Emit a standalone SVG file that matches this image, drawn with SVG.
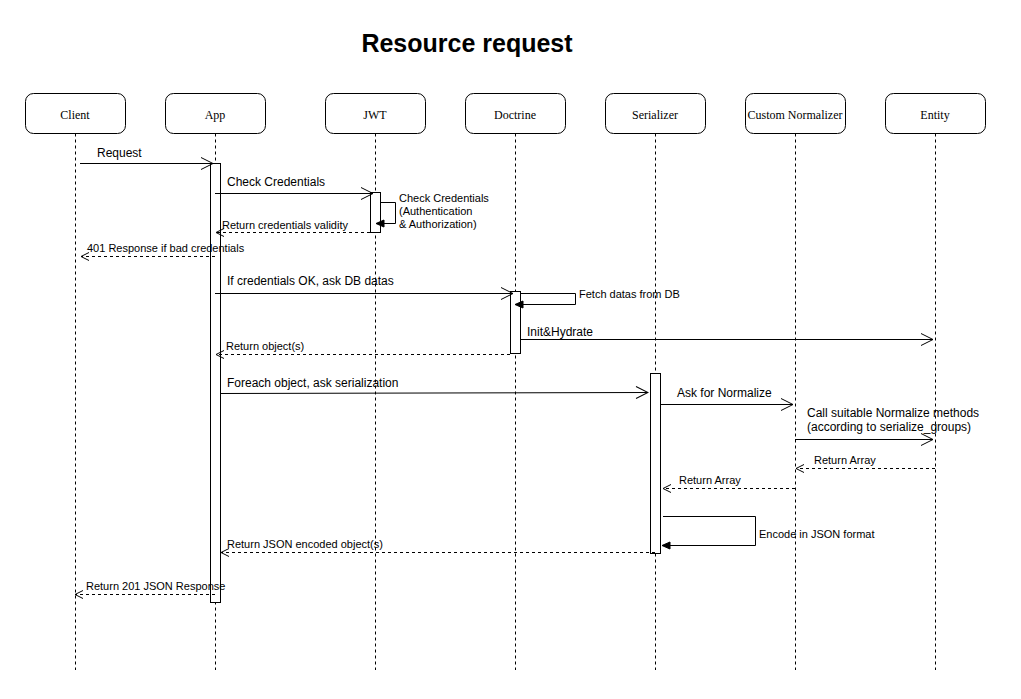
<svg xmlns="http://www.w3.org/2000/svg" width="1021" height="699" viewBox="0 0 1021 699">
<defs>
<marker id="open" markerWidth="14" markerHeight="14" refX="13" refY="7" orient="auto" markerUnits="userSpaceOnUse">
<path d="M1,1 L13,7 L1,13" fill="none" stroke="#000" stroke-width="1"/>
</marker>
<marker id="openS" markerWidth="10" markerHeight="10" refX="9" refY="5" orient="auto" markerUnits="userSpaceOnUse">
<path d="M1,1 L9,5 L1,9" fill="none" stroke="#000" stroke-width="1"/>
</marker>
<marker id="fill" markerWidth="10" markerHeight="10" refX="9" refY="5" orient="auto" markerUnits="userSpaceOnUse">
<path d="M1,1.5 L9,5 L1,8.5 Z" fill="#000" stroke="#000" stroke-width="1"/>
</marker>
</defs>
<style>
.box{fill:#fff;stroke:#000;stroke-width:1}
.ln{font-family:"Liberation Serif",serif;font-size:12px;text-anchor:middle}
.life{stroke:#000;stroke-width:1;stroke-dasharray:3,3;fill:none}
.act{fill:#fff;stroke:#000;stroke-width:1}
.msg{stroke:#000;stroke-width:1;fill:none}
.ret{stroke:#000;stroke-width:1;fill:none;stroke-dasharray:3,3}
.t12{font-family:"Liberation Sans",Arial,sans-serif;font-size:12px}
.t11{font-family:"Liberation Sans",Arial,sans-serif;font-size:11px}
</style>
<rect width="1021" height="699" fill="#fff"/>
<text x="467" y="52" text-anchor="middle" font-family="Liberation Sans,Arial,sans-serif" font-size="25" font-weight="bold">Resource request</text>

<g id="client"><rect class="box" x="25.5" y="93.5" width="100" height="40" rx="8"/><text class="ln" x="75" y="119">Client</text><line class="life" x1="75.5" y1="133.5" x2="75.5" y2="670"/></g>
<g id="app"><rect class="box" x="165.5" y="93.5" width="100" height="40" rx="8"/><text class="ln" x="215" y="119">App</text><line class="life" x1="215.5" y1="133.5" x2="215.5" y2="670"/></g>
<g id="jwt"><rect class="box" x="325.5" y="93.5" width="100" height="40" rx="8"/><text class="ln" x="375" y="119">JWT</text><line class="life" x1="375.5" y1="133.5" x2="375.5" y2="670"/></g>
<g id="doctrine"><rect class="box" x="465.5" y="93.5" width="100" height="40" rx="8"/><text class="ln" x="515" y="119">Doctrine</text><line class="life" x1="515.5" y1="133.5" x2="515.5" y2="670"/></g>
<g id="serializer"><rect class="box" x="605.5" y="93.5" width="100" height="40" rx="8"/><text class="ln" x="655" y="119">Serializer</text><line class="life" x1="655.5" y1="133.5" x2="655.5" y2="670"/></g>
<g id="normalizer"><rect class="box" x="745.5" y="93.5" width="100" height="40" rx="8"/><text class="ln" x="795" y="119">Custom Normalizer</text><line class="life" x1="795.5" y1="133.5" x2="795.5" y2="670"/></g>
<g id="entity"><rect class="box" x="885.5" y="93.5" width="100" height="40" rx="8"/><text class="ln" x="935" y="119">Entity</text><line class="life" x1="935.5" y1="133.5" x2="935.5" y2="670"/></g>

<g id="activations">
<rect class="act" x="210.5" y="163.5" width="10" height="439"/>
<rect class="act" x="370.5" y="192.5" width="10" height="40"/>
<rect class="act" x="510.5" y="291.5" width="10" height="62"/>
<rect class="act" x="650.5" y="373.5" width="10" height="180"/>
</g>

<g id="connectors">
<line class="msg" x1="80" y1="163.5" x2="213" y2="163.5" marker-end="url(#open)"/>
<text class="t12" x="97" y="157">Request</text>

<line class="msg" x1="215" y1="193.5" x2="373" y2="193.5" marker-end="url(#open)"/>
<text class="t12" x="227" y="186">Check Credentials</text>

<path class="msg" d="M380,202.5 H395.5 V223.5 H376" marker-end="url(#fill)"/>
<text class="t11" x="399" y="202">Check Credentials</text>
<text class="t11" x="399" y="215">(Authentication</text>
<text class="t11" x="399" y="228">&amp; Authorization)</text>

<line class="ret" x1="370" y1="232.5" x2="216" y2="232.5" marker-end="url(#openS)"/>
<text class="t11" x="222" y="229">Return credentials validity</text>

<line class="ret" x1="215" y1="256.5" x2="81" y2="256.5" marker-end="url(#openS)"/>
<text class="t11" x="87" y="252">401 Response if bad credentials</text>

<line class="msg" x1="215" y1="293.5" x2="513" y2="293.5" marker-end="url(#open)"/>
<text class="t12" x="227" y="285">If credentials OK, ask DB datas</text>

<path class="msg" d="M520,293.5 H575.5 V304.5 H515" marker-end="url(#fill)"/>
<text class="t11" x="579" y="298">Fetch datas from DB</text>

<line class="msg" x1="520" y1="339.5" x2="933" y2="339.5" marker-end="url(#open)"/>
<text class="t12" x="527" y="336">Init&amp;Hydrate</text>

<line class="ret" x1="510" y1="354.5" x2="216" y2="354.5" marker-end="url(#openS)"/>
<text class="t11" x="226" y="350">Return object(s)</text>

<line class="msg" x1="220" y1="393.5" x2="648" y2="392.5" marker-end="url(#open)"/>
<text class="t12" x="227" y="387">Foreach object, ask serialization</text>

<line class="msg" x1="660" y1="404.5" x2="793" y2="404.5" marker-end="url(#open)"/>
<text class="t12" x="677" y="397">Ask for Normalize</text>

<line class="msg" x1="795" y1="439.5" x2="933" y2="439.5" marker-end="url(#open)"/>
<text class="t12" x="807" y="417">Call suitable Normalize methods</text>
<text class="t12" x="807" y="431">(according to serialize_groups)</text>

<line class="ret" x1="935" y1="468.5" x2="796" y2="468.5" marker-end="url(#openS)"/>
<text class="t11" x="814" y="464">Return Array</text>

<line class="ret" x1="795" y1="488.5" x2="663" y2="488.5" marker-end="url(#openS)"/>
<text class="t11" x="679" y="484">Return Array</text>

<path class="msg" d="M663,516.5 H755.5 V545.5 H662" marker-end="url(#fill)"/>
<text class="t11" x="759" y="538">Encode in JSON format</text>

<line class="ret" x1="655" y1="552.5" x2="221" y2="552.5" marker-end="url(#openS)"/>
<text class="t11" x="227" y="548">Return JSON encoded object(s)</text>

<line class="ret" x1="215" y1="594.5" x2="75" y2="594.5" marker-end="url(#openS)"/>
<text class="t11" x="86" y="590">Return 201 JSON Response</text>
</g>
</svg>
